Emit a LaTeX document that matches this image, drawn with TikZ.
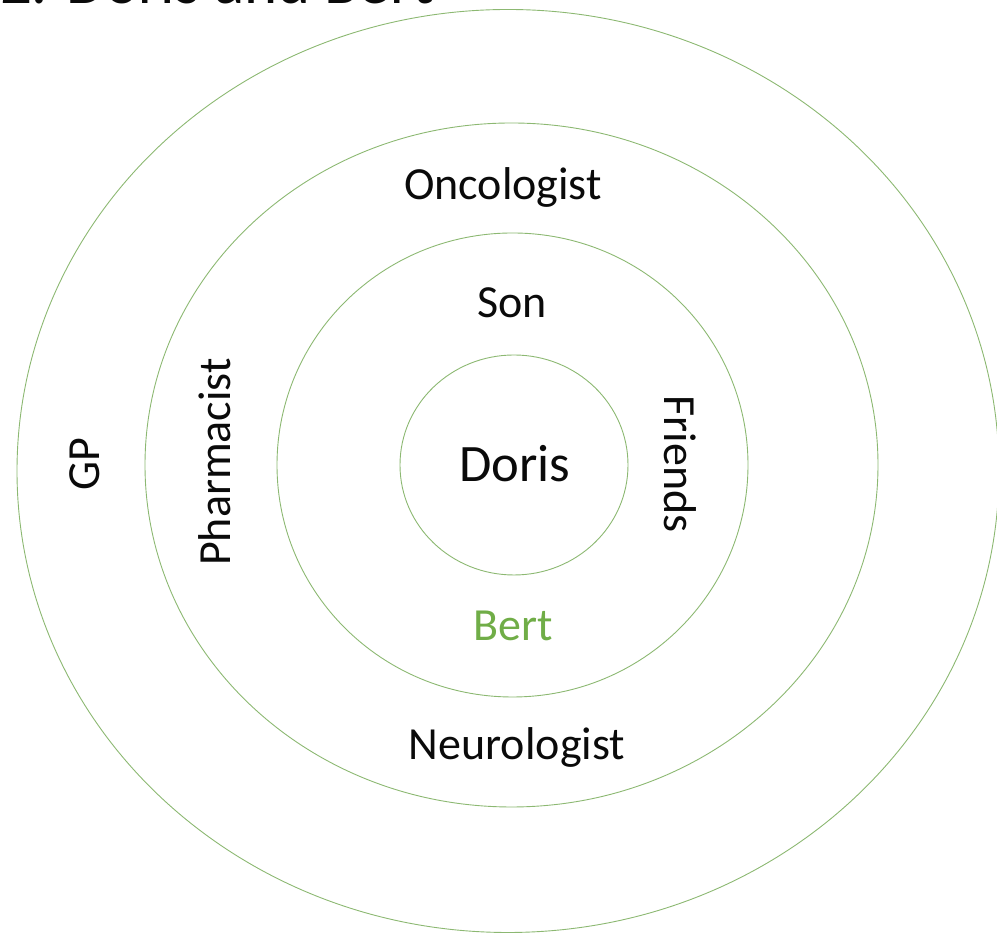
\documentclass[tikz,border=0pt]{standalone}
\usepackage{fontspec}
\setmainfont{Carlito}
\usepackage{xcolor}
\usepackage{tikz}
\usetikzlibrary{positioning}
\definecolor{ring}{HTML}{8CB872}
\definecolor{ink}{HTML}{0A0A0A}
\definecolor{bertgreen}{HTML}{70AD47}
\tikzset{
  ringline/.style = {draw=ring, line width=0.9pt},
  lab/.style      = {font=\fontsize{46}{55}\selectfont\color{ink}, inner sep=0pt, outer sep=0pt, anchor=base},
  core/.style     = {font=\fontsize{52.6}{62}\selectfont\color{ink}, inner sep=0pt, outer sep=0pt, anchor=base},
  headline/.style = {font=\fontsize{63}{75}\selectfont\color{ink}, inner sep=0pt, outer sep=0pt, anchor=base west},
}

\begin{document}
\begin{tikzpicture}[x=1pt,y=1pt]
\path[use as bounding box] (0,0) rectangle (997,936);
\clip (0,0) rectangle (997,936);

% ---- title (cut by the page edge) -----------------------------------------
\node[headline] (title) at (0,932.5) {2. Doris and Bert};

% ---- rings ----------------------------------------------------------------
\draw[ringline] (508,465) ellipse [x radius=491, y radius=461.5];
\draw[ringline] (511.5,471) ellipse [x radius=366.5, y radius=342];
\draw[ringline] (512.5,471) ellipse [x radius=235.5, y radius=232];
\draw[ringline] (514,471) ellipse [x radius=114, y radius=110];

% ---- people ---------------------------------------------------------------
\node[core] (doris) at (515,454) {Doris};
\node[lab] (son) at (512,618) {Son};
\node[lab, text=bertgreen] (bert) at (513,295) {Bert};
\node[lab] (friends) at (664,472) [rotate=-90] {Friends};
\node[lab] (oncologist) at (503,736) {Oncologist};
\node[lab] (neurologist) at (517,176) {Neurologist};
\node[lab] (pharmacist) at (230,474) [rotate=90] {Pharmacist};
\node[lab] (gp) at (99,472) [rotate=90] {GP};

\end{tikzpicture}
\end{document}
